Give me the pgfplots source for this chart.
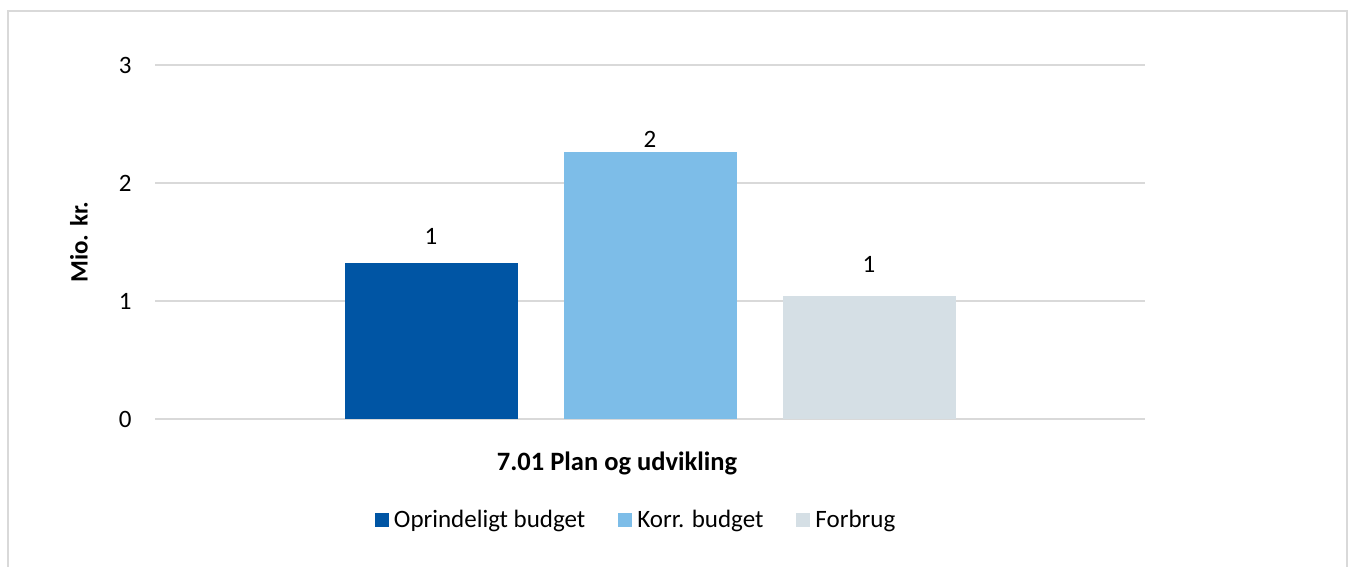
\documentclass[border=0pt]{standalone}
\usepackage{pgfplots}
\pgfplotsset{compat=1.18}
\usepackage{fontspec}
\setmainfont{Carlito}
\definecolor{c1}{RGB}{0,85,164}
\definecolor{c2}{RGB}{125,189,232}
\definecolor{c3}{RGB}{213,223,229}
\definecolor{gridc}{RGB}{217,217,217}
\begin{document}
\begin{tikzpicture}[x=1pt,y=1pt]
\useasboundingbox (0,0) rectangle (1348,566);
\draw[gridc,line width=1.5pt] (8,-20) -- (8,555) -- (1347,555) -- (1347,-20);
\begin{axis}[
  at={(155pt,147pt)}, anchor=south west,
  scale only axis, width=990pt, height=354pt,
  ybar=46pt, bar width=173pt,
  xmin=-1, xmax=1, ymin=0, ymax=3,
  xtick={0}, xticklabels={\textbf{7.01 Plan og udvikling}},
  ytick={0,1,2,3},
  ymajorgrids, grid style={gridc,line width=1.3pt},
  axis line style={draw=none}, major tick length=0pt,
  font=\fontsize{25}{30}\selectfont,
  ticklabel style={font=\fontsize{25}{30}\selectfont},
  /pgf/number format/assume math mode=true,
  yticklabel style={xshift=-20pt},
  xticklabel style={yshift=-29pt, xshift=-33pt, font=\fontsize{26.5}{31}\selectfont},
  ylabel={\textbf{Mio. kr.}}, ylabel style={font=\fontsize{25}{30}\selectfont, yshift=24pt},
  nodes near coords, nodes near coords style={font=\fontsize{25}{30}\selectfont, /pgf/number format/fixed, /pgf/number format/precision=0},
  legend columns=3,
  legend style={at={(0.486,-0.285)}, anchor=center, draw=none, font=\fontsize{25}{30}\selectfont,
    /tikz/every odd column/.append style={column sep=3pt},
    /tikz/every even column/.append style={column sep=31pt}},
  legend image code/.code={\fill[#1] (0pt,-7pt) rectangle (14pt,7pt);},
]
\addplot[fill=c1, draw=none, nodes near coords style={yshift=15.5pt}] coordinates {(0,1.32)};
\addplot[fill=c2, draw=none, nodes near coords style={yshift=1.5pt}] coordinates {(0,2.26)};
\addplot[fill=c3, draw=none, nodes near coords style={yshift=20.5pt}] coordinates {(0,1.04)};
\legend{Oprindeligt budget, Korr. budget, Forbrug}
\end{axis}
\end{tikzpicture}
\end{document}
